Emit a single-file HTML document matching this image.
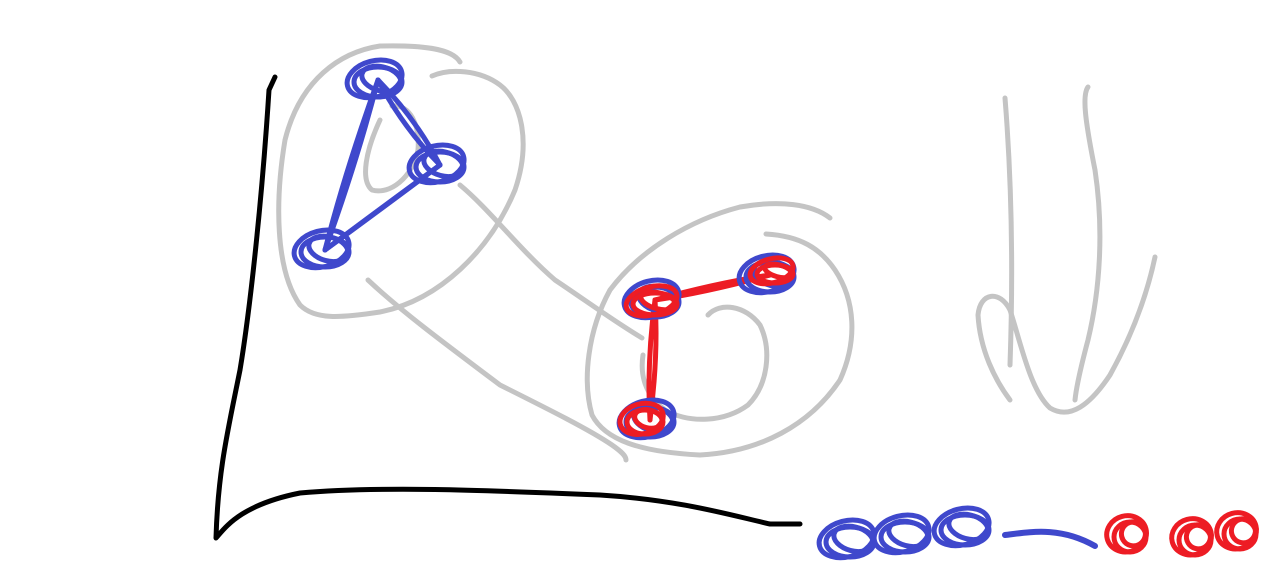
<!DOCTYPE html>
<html><head><meta charset="utf-8"><style>
html,body{margin:0;padding:0;background:#fff;}
svg{display:block;}
</style></head><body>
<svg id="c" width="1284" height="588" viewBox="0 0 1284 588" xmlns="http://www.w3.org/2000/svg">
<g fill="none" stroke-linecap="round" stroke-linejoin="round">
<path stroke="#000" stroke-width="5" d="M275,77 L269,90 C262,200 250,310 240,370 C228,430 218,470 216,538 C225,528 240,505 300,493 C380,486 480,490 600,495 C680,500 730,515 770,524 L800,524"/>
<g stroke="#c4c4c4" stroke-width="5">
<path d="M460,62 C452,48 420,45 380,46 C340,52 300,80 285,140 C275,200 275,270 300,305 C315,320 340,318 380,312 C440,300 490,250 515,190 C532,140 520,100 500,85 C480,70 450,68 432,76"/>
<path d="M392,106 C410,104 420,125 418,150 C412,178 390,195 372,190 C360,180 366,150 380,120"/>
<path d="M368,280 C400,310 440,340 500,385 C550,410 590,430 612,445 C622,452 626,456 626,460"/>
<path d="M460,185 C490,210 520,250 555,280 C585,300 615,322 642,338"/>
<path d="M830,218 C812,204 780,200 740,207 C690,220 640,250 610,290 C588,330 582,380 592,415 C605,440 640,452 700,455 C760,452 810,425 840,380 C858,340 855,300 835,270 C820,248 800,236 766,234"/>
<path d="M708,315 C720,302 745,305 760,325 C772,350 768,385 748,405 C725,422 690,424 665,410 C645,395 640,375 643,355"/>
<path d="M1005,98 C1010,160 1014,250 1010,365"/>
<path d="M1010,400 C995,380 980,350 978,315 C980,292 1000,290 1010,310 C1020,340 1030,390 1050,408 C1070,420 1090,405 1110,375 C1135,330 1148,290 1155,257"/>
<path d="M1088,87 C1082,95 1085,120 1095,170 C1104,230 1100,290 1088,340 C1080,370 1076,390 1075,400"/>
</g>
<g id="edges"></g>
<g id="nodes"></g>
<g id="legend"></g>
</g>
</svg>
<script>
const nodeX = [378, 440, 325, 655, 770, 650];
const nodeY = [80, 165, 250, 300, 275, 420];
const nodeColor = ['blue','blue','blue','blue','blue','blue'];
const edgeFrom = [0, 0, 1, 3, 3];
const edgeTo = [1, 2, 2, 4, 5];
const edgeColor = ['blue','blue','blue','red','red'];
const legendX = [850, 905, 965, 1130, 1195, 1240];
const legendY = [540, 535, 528, 535, 538, 532];
const legendColor = ['blue','blue','blue','red','red','red'];
const COL = {blue:'#3f48cc', red:'#ed1c24'};
const NS = 'http://www.w3.org/2000/svg';
function scrib(g, x, y, rx, ry, col, name){
  for(let k=0;k<3;k++){
    const e=document.createElementNS(NS,'ellipse');
    e.setAttribute('cx', x + (k-1)*3);
    e.setAttribute('cy', y + (k%2?2:-2));
    e.setAttribute('rx', rx - k*4);
    e.setAttribute('ry', ry - k*3);
    e.setAttribute('stroke', col);
    e.setAttribute('stroke-width', 5);
    e.setAttribute('transform','rotate('+(k*15-15)+' '+x+' '+y+')');
    
    
    g.appendChild(e);
  }
}
const eg=document.getElementById('edges');
for(let i=0;i<edgeFrom.length;i++){
  const a=edgeFrom[i], b=edgeTo[i];
  for(let k=0;k<2;k++){
    const l=document.createElementNS(NS,'path');
    const mx=(nodeX[a]+nodeX[b])/2+(k?6:-6), my=(nodeY[a]+nodeY[b])/2+(k?-5:5);
    l.setAttribute('d','M'+nodeX[a]+','+nodeY[a]+' Q'+mx+','+my+' '+nodeX[b]+','+nodeY[b]);
    l.setAttribute('stroke', COL[edgeColor[i]]);
    l.setAttribute('stroke-width', 5);
    
    
    eg.appendChild(l);
  }
}
const ng=document.getElementById('nodes');
for(let i=0;i<nodeX.length;i++){
  scrib(ng,nodeX[i],nodeY[i],28,18,COL[nodeColor[i]],'node');
}
// red overlay scribbles on lower cluster
scrib(ng,655,302,26,14,COL.red,'node');
scrib(ng,775,272,22,12,COL.red,'node');
scrib(ng,645,420,22,15,COL.red,'node');
const lg=document.getElementById('legend');
for(let i=0;i<legendX.length;i++){
  scrib(lg,legendX[i],legendY[i],legendColor[i]==='blue'?28:20,18,COL[legendColor[i]],'legend-mark');
}
const ll=document.createElementNS(NS,'path');
ll.setAttribute('d','M1005,535 C1030,532 1060,526 1095,546');
ll.setAttribute('stroke', COL.blue);
ll.setAttribute('stroke-width', 6);


lg.appendChild(ll);
</script>
</body></html>
